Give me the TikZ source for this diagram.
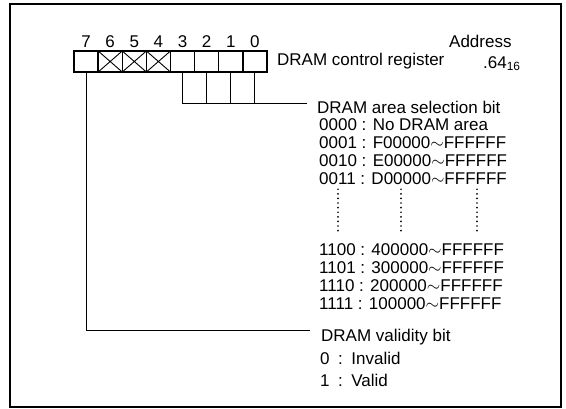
\documentclass[tikz,border=0pt]{standalone}
\usepackage{fontspec}
\setmainfont{Liberation Sans}
\usetikzlibrary{positioning}
\tikzset{
  bitcell/.style={draw,line width=1.4pt,minimum width=24.125pt,minimum height=21pt,inner sep=0pt,outer sep=0pt,label distance=6pt},
  caption/.style={inner sep=0pt,anchor=base west},
  codelist/.style={inner sep=0pt,anchor=north west,align=left},
  wire/.style={line width=0.9pt},
  ellipsis/.style={line width=1.9pt,line cap=round,dash pattern=on 0pt off 4.6pt}
}

\begin{document}
\begin{tikzpicture}[x=1pt,y=-1pt,font=\fontsize{17}{18}\selectfont]
  \useasboundingbox (0,0) rectangle (566,408);
  \draw[line width=2.4pt] (10,4) rectangle (561,407);
  % register, bit 7 on the left
  \node[bitcell,label=above:7] (b7) at (86.06,61.5) {};
  \node[bitcell,label=above:6,right=0pt of b7] (b6) {};
  \node[bitcell,label=above:5,right=0pt of b6] (b5) {};
  \node[bitcell,label=above:4,right=0pt of b5] (b4) {};
  \node[bitcell,label=above:3,right=0pt of b4] (b3) {};
  \node[bitcell,label=above:2,right=0pt of b3] (b2) {};
  \node[bitcell,label=above:1,right=0pt of b2] (b1) {};
  \node[bitcell,label=above:0,right=0pt of b1] (b0) {};
  \draw[wire] (b6.north west) -- (b6.south east) (b6.south west) -- (b6.north east);
  \draw[wire] (b5.north west) -- (b5.south east) (b5.south west) -- (b5.north east);
  \draw[wire] (b4.north west) -- (b4.south east) (b4.south west) -- (b4.north east);
  \node[inner sep=0pt,right=10pt of b0] (ctrl) {DRAM control register};
  \node[caption] (addr) at (449,47) {Address};
  \node[caption] (addrval) at (483,68) {.64\textsubscript{16}};
  % area selection bits
  \node[caption] (sel) at (317,113) {DRAM area selection bit};
  \node[codelist] (codeshi) at (319,118.8) {0000 : No DRAM area\\0001 : F00000$\sim$FFFFFF\\0010 : E00000$\sim$FFFFFF\\0011 : D00000$\sim$FFFFFF};
  \node[codelist] (codeslo) at (319,243.8) {1100 : 400000$\sim$FFFFFF\\1101 : 300000$\sim$FFFFFF\\1110 : 200000$\sim$FFFFFF\\1111 : 100000$\sim$FFFFFF};
  \draw[ellipsis] ([xshift=19pt,yshift=-4pt]codeshi.south west) -- ([xshift=19pt,yshift=9pt]codeslo.north west);
  \draw[ellipsis] ([xshift=82pt,yshift=-4pt]codeshi.south west) -- ([xshift=82pt,yshift=9pt]codeslo.north west);
  \draw[ellipsis] ([xshift=158pt,yshift=-4pt]codeshi.south west) -- ([xshift=158pt,yshift=9pt]codeslo.north west);
  \coordinate (selbus) at ([yshift=3pt]sel.west);
  \draw[wire,shorten >=10pt] (b3.south) |- (selbus);
  \draw[wire] (b2.south) -- (b2.south |- selbus);
  \draw[wire] (b1.south) -- (b1.south |- selbus);
  \draw[wire] (b0.south) -- (b0.south |- selbus);
  % validity bit
  \node[caption] (valid) at (321,341) {DRAM validity bit};
  \node[codelist,font=\fontsize{17}{22}\selectfont] (validvals) at (320,351.8) {0\enspace:\enspace Invalid\\1\enspace:\enspace Valid};
  \coordinate (validbus) at ([yshift=5.7pt]valid.west);
  \draw[wire,shorten >=11pt] (b7.south) |- (validbus);
\end{tikzpicture}
\end{document}
